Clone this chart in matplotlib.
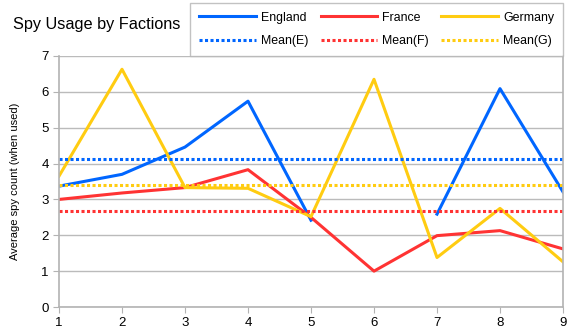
import numpy as np
import matplotlib.pyplot as plt

plt.rcParams['font.family'] = ['Liberation Sans', 'DejaVu Sans']

x = [1, 2, 3, 4, 5, 6, 7, 8, 9]
england = [3.37, 3.70, 4.46, 5.74, 2.42, np.nan, 2.59, 6.09, 3.21]
france = [3.00, 3.18, 3.33, 3.83, 2.50, 1.00, 1.99, 2.13, 1.62]
germany = [3.65, 6.63, 3.33, 3.31, 2.52, 6.35, 1.38, 2.75, 1.26]
mean_e = 4.13
mean_f = 2.68
mean_g = 3.40

c_e = '#0066ff'
c_f = '#ff3333'
c_g = '#ffcc11'

fig = plt.figure(figsize=(5.75, 3.36), dpi=100)
ax = fig.add_axes([59/575, 1-307/336, (563-59)/575, (307-56)/336])

l1, = ax.plot(x, england, color=c_e, lw=2.2, label='England')
l2, = ax.plot(x, france, color=c_f, lw=2.2, label='France')
l3, = ax.plot(x, germany, color=c_g, lw=2.2, label='Germany')
m1 = ax.axhline(mean_e, color=c_e, lw=2.2, ls=(0, (1, 0.8)), label='Mean(E)')
m2 = ax.axhline(mean_f, color=c_f, lw=2.2, ls=(0, (1, 0.8)), label='Mean(F)')
m3 = ax.axhline(mean_g, color=c_g, lw=2.2, ls=(0, (1, 0.8)), label='Mean(G)')

ax.set_xlim(1, 9)
ax.set_ylim(0, 7)
ax.set_xticks(x)
ax.set_yticks(range(8))
ax.grid(axis='y', color='#bbbbbb', lw=1)
ax.set_axisbelow(True)
for s in ['left', 'bottom', 'right']:
    ax.spines[s].set_color('#b3b3b3')
    ax.spines[s].set_linewidth(1.2)
ax.spines['top'].set_visible(False)
ax.tick_params(colors='#b3b3b3', labelcolor='black', labelsize=9.5, length=4)
ax.set_ylabel('Average spy count (when used)', fontsize=8)
ax.yaxis.set_label_coords(-0.077, 0.5)

fig.text(13/575, 1-24/336, 'Spy Usage by Factions', fontsize=11.7, va='center')

leg = fig.legend(handles=[l1, m1, l2, m2, l3, m3], ncol=3, loc='upper right',
                 bbox_to_anchor=(563/575, 1-3/336), frameon=True, fancybox=False,
                 fontsize=8.9, handlelength=4.6, columnspacing=1.0,
                 handletextpad=0.4, borderpad=0.7, labelspacing=0.95,
                 borderaxespad=0)
leg.get_frame().set_edgecolor('#b3b3b3')
leg.get_frame().set_linewidth(1)

fig.savefig('out.png', dpi=100)
